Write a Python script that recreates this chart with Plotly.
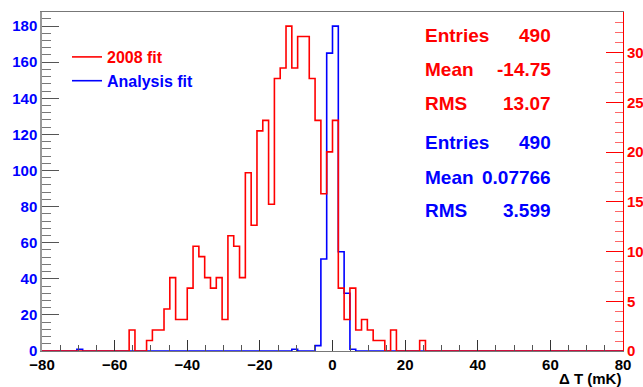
import numpy as np
import plotly.graph_objects as go

# ---------------- data ----------------
x_min, x_max, n_bins = -80.0, 80.0, 100

red_name = "2008 fit"
blue_name = "Analysis fit"

red_counts = [
    0, 0, 0, 0, 0, 0, 0, 0, 0, 0,
    0, 0, 0, 0, 0, 2, 0, 0, 1, 2,
    2, 4, 7, 3, 3, 6, 10, 9, 7, 6,
    7, 3, 11, 10, 7, 17, 12, 21, 22, 14,
    26, 27, 31, 27, 30, 30, 26, 22, 15, 19,
    22, 6, 3, 6, 2, 3, 2, 1, 1, 0,
    2, 0, 0, 0, 0, 1, 0, 0, 0, 0,
    0, 0, 0, 0, 0, 0, 0, 0, 0, 0,
    0, 0, 0, 0, 0, 0, 0, 0, 0, 0,
    0, 0, 0, 0, 0, 0, 0, 0, 0, 0,
]

blue_counts = [
    0, 0, 0, 0, 0, 0, 1, 0, 0, 0,
    0, 0, 0, 0, 0, 0, 0, 0, 0, 0,
    0, 0, 0, 0, 0, 0, 0, 0, 0, 0,
    0, 0, 0, 0, 0, 0, 0, 0, 0, 0,
    0, 0, 0, 1, 0, 0, 0, 3, 51, 165,
    180, 55, 32, 1, 0, 0, 0, 0, 0, 0,
    0, 0, 0, 0, 0, 0, 0, 0, 0, 0,
    0, 0, 0, 0, 0, 0, 0, 0, 0, 0,
    0, 0, 0, 0, 0, 0, 0, 0, 0, 0,
    0, 0, 0, 0, 0, 0, 0, 0, 0, 0,
]

red_stats_labels = ["Entries", "Mean", "RMS"]
red_stats_values = ["490", "-14.75", "13.07"]
blue_stats_labels = ["Entries", "Mean", "RMS"]
blue_stats_values = ["490", "0.07766", "3.599"]

x_tick_vals = [-80, -60, -40, -20, 0, 20, 40, 60, 80]
left_tick_vals = [0, 20, 40, 60, 80, 100, 120, 140, 160, 180]
right_tick_vals = [0, 5, 10, 15, 20, 25, 30]

x_title = "\u0394 T (mK)"

# ---------------- layout constants ----------------
W, H = 643, 387
ML, MR, MT, MB = 42, 20, 12, 36
PW = W - ML - MR
PH = H - MT - MB
Y_TOP = 187.8

RED = "#ff0000"
BLUE = "#0000ff"
FONT = "Liberation Sans"

edges = np.linspace(x_min, x_max, n_bins + 1)


def step_y(counts):
    return list(counts) + [counts[-1]]


red_axis_top = Y_TOP * max(red_counts) / max(blue_counts)
right_axis_top = 1.1 * max(red_counts)

fig = go.Figure()

fig.add_trace(go.Scatter(
    x=edges, y=step_y(blue_counts), mode="lines",
    line=dict(color=BLUE, width=1.6, shape="hv"),
    name='<span style="color:#0000ff">' + blue_name + '</span>',
    yaxis="y", legendrank=2, hoverinfo="skip",
))
fig.add_trace(go.Scatter(
    x=[None], y=[None], mode="lines", yaxis="y2", showlegend=False,
    hoverinfo="skip",
))
fig.add_trace(go.Scatter(
    x=edges, y=step_y(red_counts), mode="lines",
    line=dict(color=RED, width=1.6, shape="hv"),
    name='<span style="color:#ff0000">' + red_name + '</span>',
    yaxis="y3", legendrank=1, hoverinfo="skip",
))


def px_to_paper(y_px):
    return (H - MB - y_px) / PH


annotations = []
stat_rows_y = [35.5, 69.5, 103.5]
blue_rows_y = [142.5, 177.0, 210.5]
lab_x = (422.7 - ML) / PW
val_x = (553 - ML) / PW
for labels, values, rows, col in [
    (red_stats_labels, red_stats_values, stat_rows_y, RED),
    (blue_stats_labels, blue_stats_values, blue_rows_y, BLUE),
]:
    for lab, val, yy in zip(labels, values, rows):
        annotations.append(dict(
            x=lab_x, y=px_to_paper(yy), xref="paper", yref="paper",
            text=lab, showarrow=False, xanchor="left", yanchor="middle",
            font=dict(family=FONT, size=19, color=col, weight="bold"),
        ))
        annotations.append(dict(
            x=val_x, y=px_to_paper(yy), xref="paper", yref="paper",
            text=val, showarrow=False, xanchor="right", yanchor="middle",
            font=dict(family=FONT, size=19, color=col, weight="bold"),
        ))

annotations.append(dict(
    x=1.0, y=0, xref="paper", yref="paper", text=x_title, showarrow=False,
    xanchor="right", yanchor="middle", yshift=-27,
    font=dict(family=FONT, size=15, color="black", weight="bold"),
))

fig.update_layout(
    width=W, height=H,
    margin=dict(l=ML, r=MR, t=MT, b=MB, autoexpand=False),
    paper_bgcolor="white", plot_bgcolor="white",
    showlegend=True,
    legend=dict(
        x=(67 - ML) / PW, y=px_to_paper(40), xanchor="left", yanchor="top",
        bgcolor="rgba(0,0,0,0)", font=dict(family=FONT, size=16, weight="bold"),
        itemwidth=30, tracegroupgap=0,
    ),
    annotations=annotations,
    xaxis=dict(
        range=[x_min, x_max], tickmode="array", tickvals=x_tick_vals,
        ticks="inside", ticklen=11, tickcolor="#333", tickwidth=1,
        minor=dict(dtick=5, ticks="inside", ticklen=6, tickcolor="#555"),
        showline=True, linecolor="#777", linewidth=1, mirror=True,
        showgrid=False, zeroline=False, automargin=False,
        tickfont=dict(family=FONT, size=15, color="black", weight="bold"),
    ),
    yaxis=dict(
        range=[0, Y_TOP], tickmode="array", tickvals=left_tick_vals,
        ticks="inside", ticklen=17, tickcolor="#555", tickwidth=1,
        minor=dict(dtick=4, ticks="inside", ticklen=9, tickcolor="#777"),
        showline=True, linecolor="#999", linewidth=1.5,
        showgrid=False, zeroline=False, automargin=False,
        tickfont=dict(family=FONT, size=15, color=BLUE, weight="bold"),
    ),
    yaxis2=dict(
        range=[0, right_axis_top], overlaying="y", side="right",
        tickmode="array", tickvals=right_tick_vals,
        ticks="inside", ticklen=17, tickcolor=RED, tickwidth=1,
        minor=dict(dtick=1, ticks="inside", ticklen=8, tickcolor="#ff6666"),
        showline=True, linecolor=RED, linewidth=1,
        showgrid=False, zeroline=False, automargin=False,
        tickfont=dict(family=FONT, size=15, color=RED, weight="bold"),
    ),
    yaxis3=dict(
        range=[0, red_axis_top], overlaying="y", visible=False,
        showgrid=False, zeroline=False, automargin=False,
    ),
)

fig.write_html(
    "out.html",
    config={"displayModeBar": False},
    post_script="document.body.style.margin='0';document.body.style.overflow='hidden';",
)
